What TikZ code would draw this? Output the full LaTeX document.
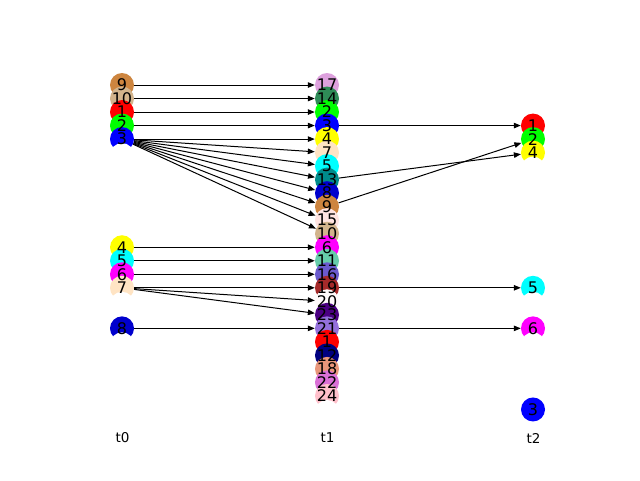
\documentclass[tikz,border=0pt]{standalone}
\usepackage{fontspec}
\setmainfont{DejaVu Sans}
\usetikzlibrary{arrows.meta}
\pgfdeclarelayer{bg}
\pgfsetlayers{bg,main}
\definecolor{cperu}{HTML}{CD853F}
\definecolor{ctan}{HTML}{D2B48C}
\definecolor{cred}{HTML}{FF0000}
\definecolor{clime}{HTML}{00FF00}
\definecolor{cblue}{HTML}{0000FF}
\definecolor{cyellow}{HTML}{FFFF00}
\definecolor{ccyan}{HTML}{00FFFF}
\definecolor{cmagenta}{HTML}{FF00FF}
\definecolor{cbisque}{HTML}{FFE4C4}
\definecolor{cmedblue}{HTML}{0000CD}
\definecolor{cplum}{HTML}{DDA0DD}
\definecolor{cseagreen}{HTML}{2E8B57}
\definecolor{cdarkcyan}{HTML}{008B8B}
\definecolor{cmistyrose}{HTML}{FFE4E1}
\definecolor{cmedaqua}{HTML}{66CDAA}
\definecolor{cslateblue}{HTML}{6A5ACD}
\definecolor{cbrown}{HTML}{A52A2A}
\definecolor{csnow}{HTML}{FFFAFA}
\definecolor{cindigo}{HTML}{4B0082}
\definecolor{cmedpurple}{HTML}{9370DB}
\definecolor{cnavy}{HTML}{000080}
\definecolor{cdarksalmon}{HTML}{E9967A}
\definecolor{corchid}{HTML}{DA70D6}
\definecolor{cpink}{HTML}{FFC0CB}
\tikzset{
  nd/.style={circle, minimum size=24pt, inner sep=0pt, draw=none, fill=#1},
  blank/.style={circle, minimum size=24pt, inner sep=0pt, draw=none, fill=white},
  lbl/.style={inner sep=0pt, font=\fontsize{16}{16}\selectfont},
  tlbl/.style={inner sep=0pt, font=\fontsize{13.5}{13.5}\selectfont},
  edge/.style={-{Triangle[length=7pt,width=5.5pt]}, line width=1pt, black}
}
\begin{document}
\begin{tikzpicture}[x=1pt,y=-1pt]
\useasboundingbox (0,0) rectangle (640,480);
\def\sp{13.52}
% column t0 (x=122)
\foreach \n/\i/\c in {9/0/cperu,10/1/ctan,1/2/cred,2/3/clime,3/4/cblue}{
  \node[nd=\c] (a\n) at (122,85+\i*\sp) {};}
\node[blank] (wa1) at (122,85+4*\sp+16) {};
\foreach \n/\i/\c in {4/12/cyellow,5/13/ccyan,6/14/cmagenta,7/15/cbisque}{
  \node[nd=\c] (a\n) at (122,85+\i*\sp) {};}
\node[blank] (wa2) at (122,85+15*\sp+16) {};
\node[nd=cmedblue] (a8) at (122,85+18*\sp) {};
\node[blank] (wa3) at (122,85+18*\sp+16) {};
% column t1 (x=327)
\foreach \n/\i/\c in {17/0/cplum,14/1/cseagreen,2/2/clime,3/3/cblue,4/4/cyellow,7/5/cbisque,5/6/ccyan,13/7/cdarkcyan,8/8/cmedblue,9/9/cperu,15/10/cmistyrose,10/11/ctan,6/12/cmagenta,11/13/cmedaqua,16/14/cslateblue,19/15/cbrown,20/16/csnow,23/17/cindigo,21/18/cmedpurple,1/19/cred,12/20/cnavy,18/21/cdarksalmon,22/22/corchid,24/23/cpink}{
  \node[nd=\c] (b\n) at (327,85+\i*\sp) {};}
\node[blank] (wb1) at (327,85+23*\sp+16) {};
% column t2 (x=533)
\foreach \n/\i/\c in {1/3/cred,2/4/clime,4/5/cyellow}{
  \node[nd=\c] (c\n) at (533,85+\i*\sp) {};}
\node[blank] (wc1) at (533,85+5*\sp+16) {};
\node[nd=ccyan] (c5) at (533,85+15*\sp) {};
\node[blank] (wc2) at (533,85+15*\sp+16) {};
\node[nd=cmagenta] (c6) at (533,85+18*\sp) {};
\node[blank] (wc3) at (533,85+18*\sp+16) {};
\node[nd=cblue] (c3) at (533,85+24*\sp) {};
% labels
\foreach \n in {9,10,1,2,3,4,5,6,7,8}{\node[lbl] (la\n) at (a\n) {\n};}
\foreach \n in {17,14,2,3,4,7,5,13,8,9,15,10,6,11,16,19,20,23,21,1,12,18,22,24}{\node[lbl] (lb\n) at (b\n) {\n};}
\foreach \n in {1,2,4,5,6,3}{\node[lbl] (lc\n) at (c\n) {\n};}
\node[tlbl] (t0) at (122.5,438) {t0};
\node[tlbl] (t1) at (327.5,438) {t1};
\node[tlbl] (t2) at (533.5,438) {t2};
% edges
\begin{pgfonlayer}{bg}
\foreach \s/\t in {a9/b17,a10/b14,a1/b2,a2/b3,a3/b4,a3/b7,a3/b5,a3/b13,a3/b8,a3/b9,a3/b15,a3/b10,a4/b6,a5/b11,a6/b16,a7/b19,a7/b20,a7/b23,a8/b21,b3/c1,b13/c4,b9/c2,b19/c5,b21/c6}{
  \draw[edge] (\s) -- (\t);}
\end{pgfonlayer}
\end{tikzpicture}
\end{document}
